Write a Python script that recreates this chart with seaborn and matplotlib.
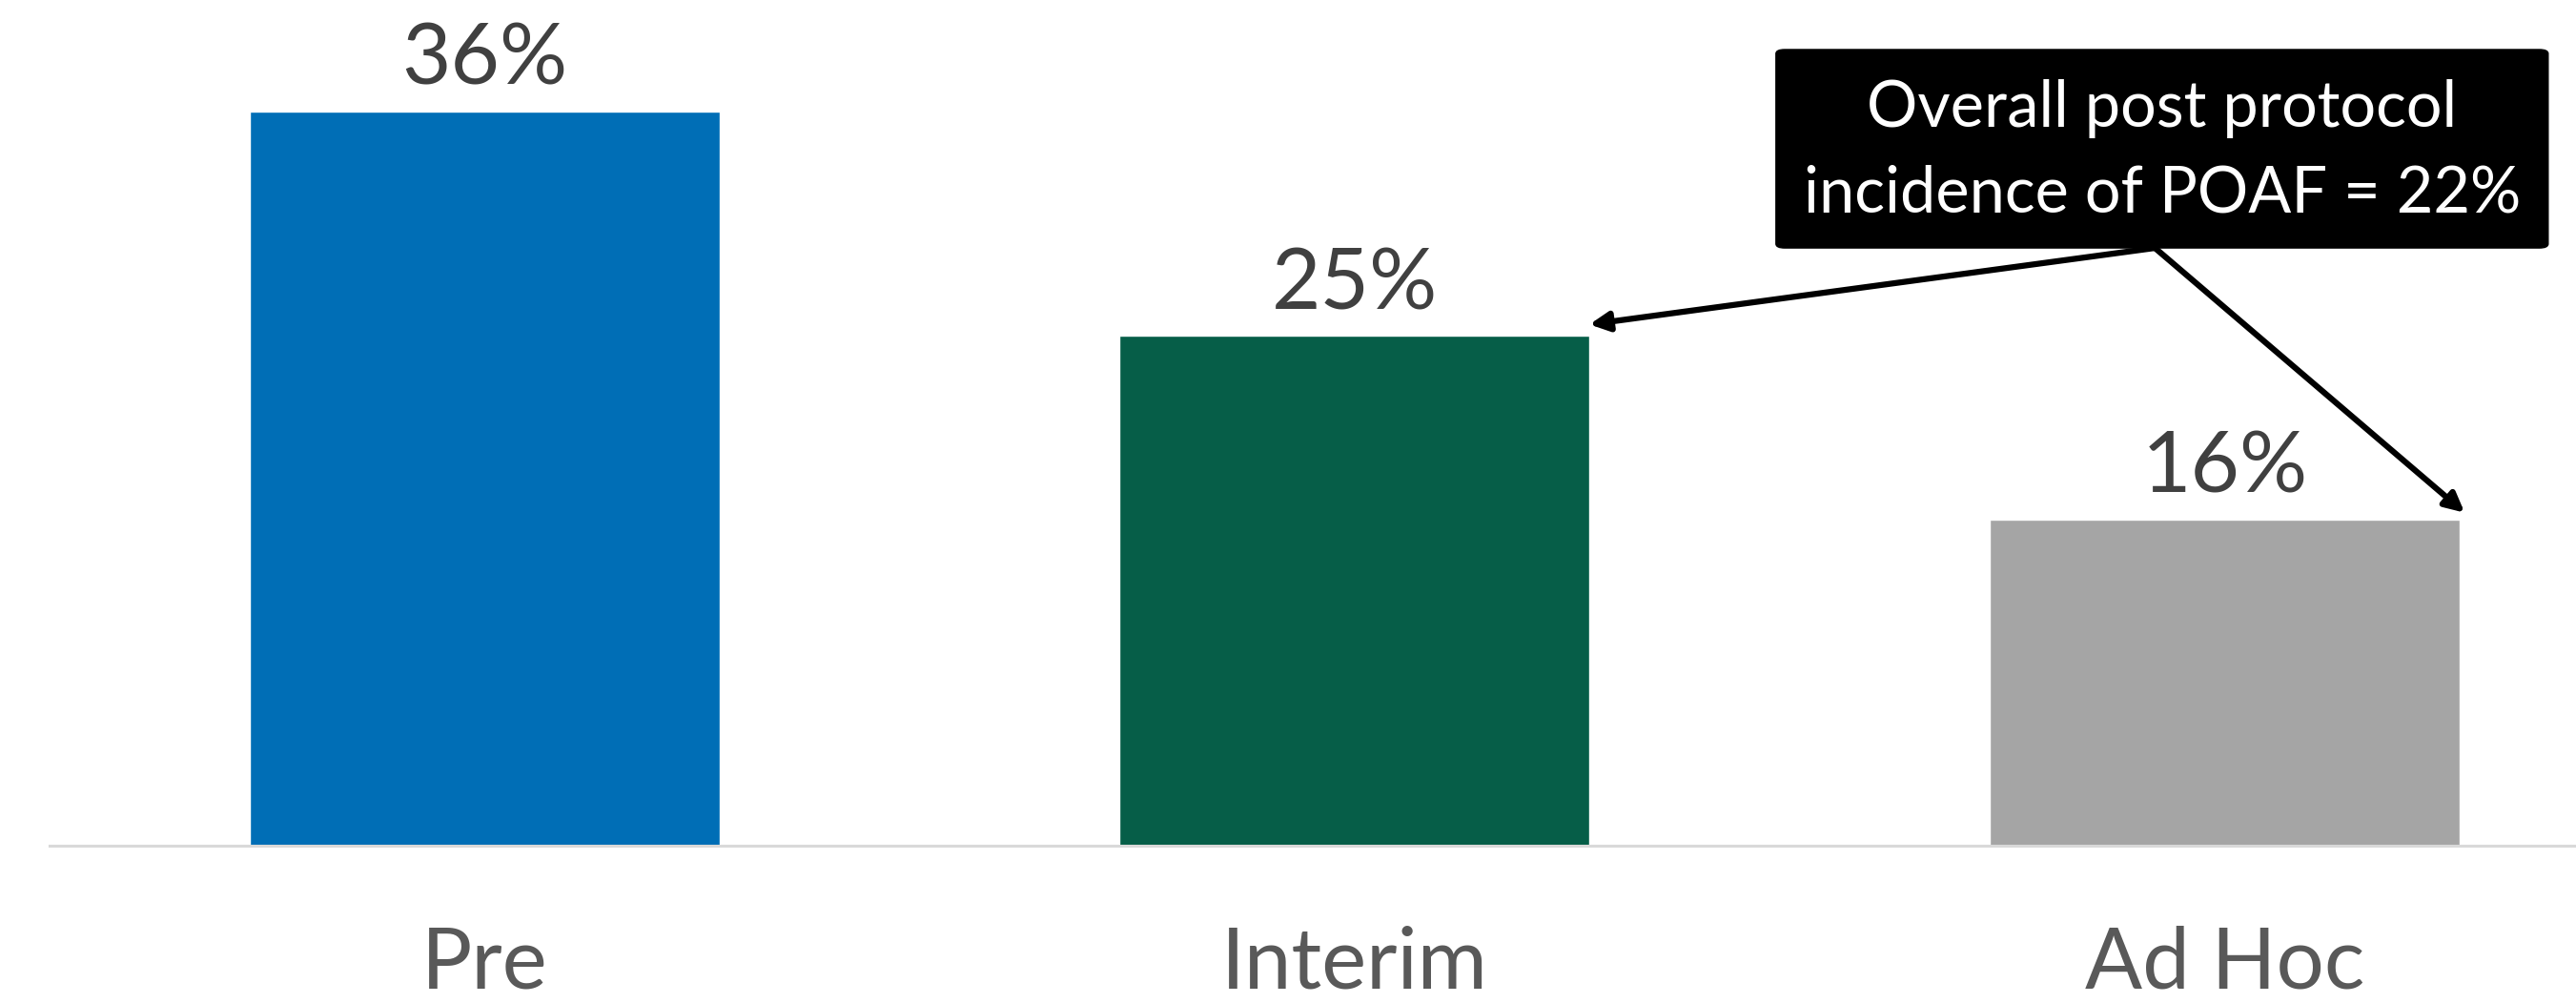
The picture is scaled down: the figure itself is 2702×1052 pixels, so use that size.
import matplotlib
matplotlib.use("Agg")
import matplotlib.pyplot as plt
import seaborn as sns
import pandas as pd
from matplotlib.patches import FancyBboxPatch

categories = ["Pre", "Interim", "Ad Hoc"]
values = [36, 25, 16]
value_labels = ["36%", "25%", "16%"]
bar_colors = ["#006EB6", "#065E48", "#A5A5A5"]
note_text = "Overall post protocol\nincidence of POAF = 22%"

sns.set_theme(style="white")
plt.rcParams['font.family'] = ['Lato', 'DejaVu Sans']

df = pd.DataFrame({"cat": categories, "val": values})

fig = plt.figure(figsize=(27.02, 10.52), dpi=100)
W, H = 2702, 1052
ax = fig.add_axes([52 / W, (H - 887) / H, 1 - 52 / W, 887 / H])

sns.barplot(data=df, x="cat", y="val", hue="cat", palette=bar_colors,
            width=0.54, legend=False, ax=ax, saturation=1)

ax.set_xlim(-0.5, 2.404)
ax.set_ylim(0, 41.47)

for i, (v, lab) in enumerate(zip(values, value_labels)):
    ax.annotate(lab, (i, v), xytext=(0, 12), textcoords="offset pixels",
                ha="center", va="bottom", fontsize=64, color="#404040")

for s in ["top", "right", "left"]:
    ax.spines[s].set_visible(False)
ax.spines["bottom"].set_color("#D9D9D9")
ax.spines["bottom"].set_linewidth(2.2)
ax.set_yticks([])
ax.set_xlabel("")
ax.set_ylabel("")
ax.tick_params(axis="x", length=0, pad=60, labelsize=64, labelcolor="#595959")

# annotation box
box = FancyBboxPatch((1.4844, 29.31), 2.372 - 1.4844, 39.04 - 29.31,
                     boxstyle="round,pad=0,rounding_size=0.01",
                     facecolor="black", edgecolor="black", transform=ax.transData,
                     clip_on=False, zorder=5, mutation_aspect=20)
ax.add_patch(box)
ax.text(1.928, 34.05, note_text, ha="center", va="center", color="white",
        fontsize=48, linespacing=1.55, zorder=6)

arrow_kw = dict(arrowstyle="-|>,head_length=1.0,head_width=0.5", color="black",
                lw=4.5, shrinkA=0, shrinkB=0)
ax.annotate("", xy=(1.27, 25.56), xytext=(1.92, 29.31),
            arrowprops=arrow_kw, annotation_clip=False)
ax.annotate("", xy=(2.276, 16.33), xytext=(1.92, 29.31),
            arrowprops=arrow_kw, annotation_clip=False)

fig.savefig("out.png", dpi=100)
